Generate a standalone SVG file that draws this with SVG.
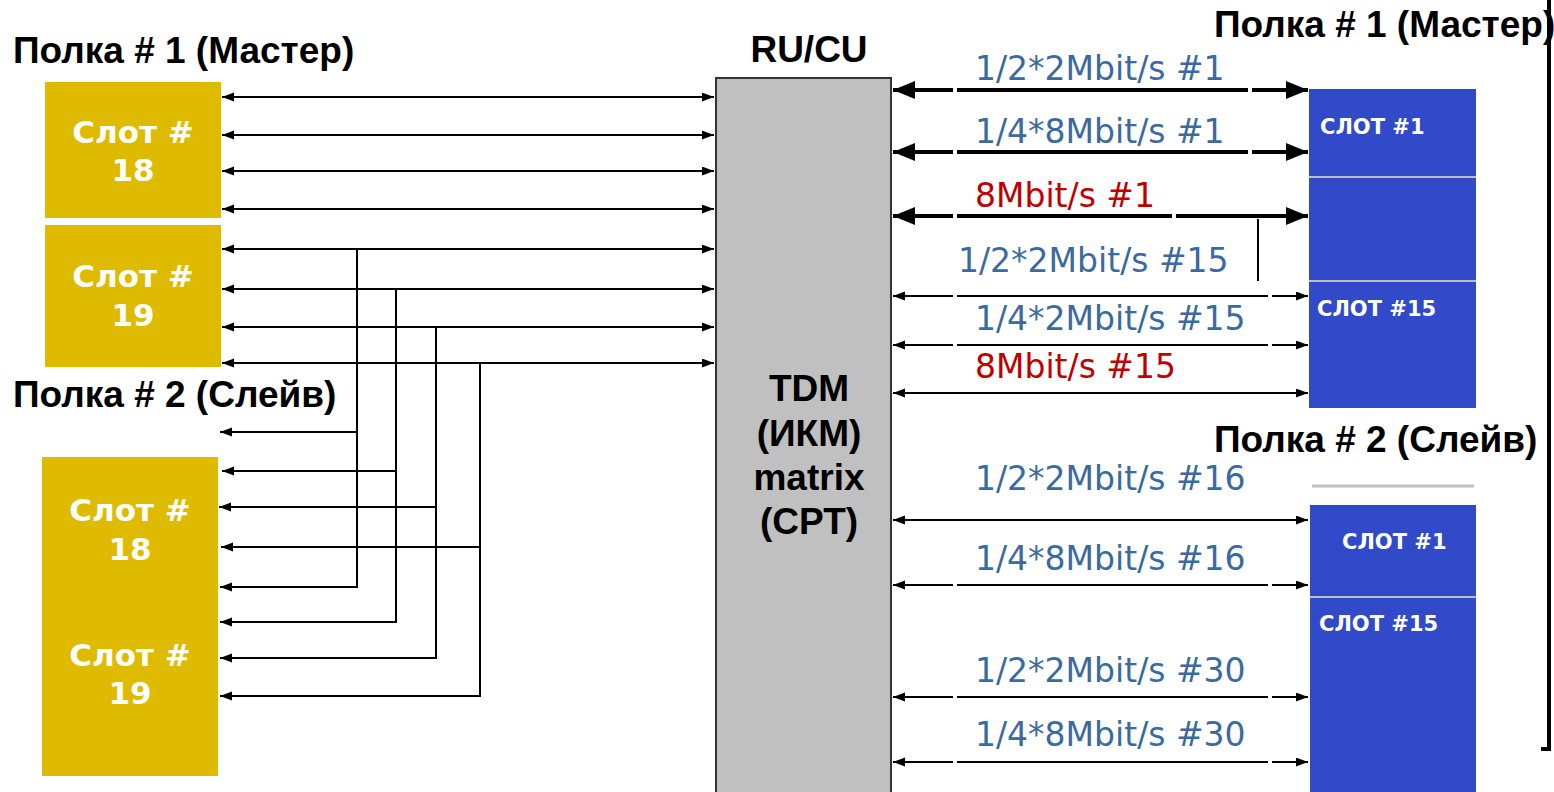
<svg xmlns="http://www.w3.org/2000/svg" width="1554" height="792" viewBox="0 0 1554 792">
<style>
.hd{font-family:"Liberation Sans",Arial,sans-serif;font-weight:bold;font-size:37px;fill:#000}
.ys{font-family:"DejaVu Sans",Verdana,sans-serif;font-weight:bold;font-size:31px;fill:#fff;text-anchor:middle}
.bs{font-family:"DejaVu Sans",Verdana,sans-serif;font-weight:bold;font-size:21px;fill:#fff}
.lb{font-family:"DejaVu Sans",Verdana,sans-serif;font-size:33px;fill:#3A6A9E}
.lr{font-family:"DejaVu Sans",Verdana,sans-serif;font-size:33px;fill:#C00000}
.ln{stroke:#000;stroke-width:2;fill:none}
.la{stroke:#000;stroke-width:2;fill:none;marker-start:url(#a);marker-end:url(#a)}
.ll{stroke:#000;stroke-width:2;fill:none;marker-end:url(#a)}
.tk{stroke:#000;stroke-width:4;fill:none;marker-start:url(#b);marker-end:url(#b)}
.yb{fill:#DFBB00}
.bb{fill:#314ACA}
.sep{stroke:#BDBDBD;stroke-width:2}
</style>
<defs>
<marker id="a" markerUnits="userSpaceOnUse" markerWidth="13" markerHeight="10" refX="12" refY="4.5" orient="auto-start-reverse"><path d="M0,0 L12,4.5 L0,9 z" fill="#000"/></marker>
<marker id="b" markerUnits="userSpaceOnUse" markerWidth="24" markerHeight="20" refX="22" refY="9" orient="auto-start-reverse"><path d="M0,0 L22,9 L0,18 z" fill="#000"/></marker>
</defs>
<rect width="1554" height="792" fill="#fff"/>

<g id="title-left-master"><text class="hd" x="13" y="63">Полка # 1 (Мастер)</text></g>
<g id="title-left-slave"><text class="hd" x="13" y="407">Полка # 2 (Слейв)</text></g>
<g id="title-right-master"><text class="hd" x="1214" y="37">Полка # 1 (Мастер)</text></g>
<g id="title-right-slave"><text class="hd" x="1214" y="452">Полка # 2 (Слейв)</text></g>

<g id="slot18-master"><rect class="yb" x="45" y="82" width="176" height="136"/><text class="ys" x="133" y="143">Слот #</text><text class="ys" x="133" y="181">18</text></g>
<g id="slot19-master"><rect class="yb" x="45" y="225" width="176" height="142"/><text class="ys" x="133" y="287">Слот #</text><text class="ys" x="133" y="326">19</text></g>
<g id="slots-slave"><rect class="yb" x="42" y="457" width="176" height="319"/><text class="ys" x="130" y="521">Слот #</text><text class="ys" x="130" y="560">18</text><text class="ys" x="130" y="666">Слот #</text><text class="ys" x="130" y="704">19</text></g>

<g id="rucu"><text class="hd" x="809" y="62" text-anchor="middle">RU/CU</text>
<rect x="716" y="78" width="175" height="730" fill="#C0C0C0" stroke="#333" stroke-width="2"/>
<text class="hd" x="809" y="401" text-anchor="middle">TDM</text>
<text class="hd" x="809" y="446" text-anchor="middle">(ИКМ)</text>
<text class="hd" x="809" y="490" text-anchor="middle">matrix</text>
<text class="hd" x="809" y="534" text-anchor="middle">(СРТ)</text></g>

<g id="blue-master"><rect class="bb" x="1309" y="89" width="167" height="319"/>
<line class="sep" x1="1309" y1="177" x2="1476" y2="177"/><line class="sep" x1="1309" y1="281" x2="1476" y2="281"/>
<text class="bs" x="1320" y="134">СЛОТ #1</text><text class="bs" x="1317" y="316">СЛОТ #15</text></g>
<g id="blue-slave"><line x1="1312" y1="486" x2="1474" y2="486" stroke="#C0C0C0" stroke-width="3"/>
<rect class="bb" x="1310" y="505" width="166" height="290"/>
<line class="sep" x1="1310" y1="597" x2="1476" y2="597"/>
<text class="bs" x="1342" y="549">СЛОТ #1</text><text class="bs" x="1319" y="631">СЛОТ #15</text></g>

<g id="bracket"><path d="M1549,0 V749 H1541" stroke="#000" stroke-width="4" fill="none"/></g>

<g id="connectors">
<line class="la" x1="222" y1="97" x2="714" y2="97"/>
<line class="la" x1="222" y1="135" x2="714" y2="135"/>
<line class="la" x1="222" y1="171" x2="714" y2="171"/>
<line class="la" x1="222" y1="209" x2="714" y2="209"/>
<line class="la" x1="222" y1="249" x2="714" y2="249"/>
<line class="la" x1="222" y1="289" x2="714" y2="289"/>
<line class="la" x1="222" y1="327" x2="714" y2="327"/>
<line class="la" x1="222" y1="363" x2="714" y2="363"/>
<path class="ln" d="M357,249 V588 M396,289 V623 M436,327 V659 M480,363 V697"/>
<line class="ll" x1="357" y1="432" x2="220" y2="432"/>
<line class="ll" x1="396" y1="471" x2="222" y2="471"/>
<line class="ll" x1="436" y1="507" x2="219" y2="507"/>
<line class="ll" x1="480" y1="547" x2="221" y2="547"/>
<line class="ll" x1="357" y1="587" x2="220" y2="587"/>
<line class="ll" x1="396" y1="622" x2="220" y2="622"/>
<line class="ll" x1="436" y1="658" x2="220" y2="658"/>
<line class="ll" x1="480" y1="696" x2="220" y2="696"/>

<path class="tk" d="M893,90 H953 M957,90 H1248 M1252,90 H1308"/>
<path class="tk" d="M893,152 H953 M957,152 H1248 M1252,152 H1308"/>
<path class="tk" d="M893,216 H953 M957,216 H1172 M1176,216 H1308"/>
<line class="ln" x1="1258" y1="219" x2="1258" y2="281"/>
<path class="la" d="M893,296 H953 M957,296 H1268 M1272,296 H1308"/>
<path class="la" d="M893,345 H953 M957,345 H1268 M1272,345 H1308"/>
<path class="la" d="M893,393 H1308"/>
<path class="la" d="M893,520 H1308"/>
<path class="la" d="M893,585 H953 M957,585 H1268 M1272,585 H1308"/>
<path class="la" d="M893,697 H953 M957,697 H1268 M1272,697 H1308"/>
<path class="la" d="M893,762 H953 M957,762 H1268 M1272,762 H1308"/>
</g>

<g id="labels">
<text class="lb" x="975" y="80">1/2*2Mbit/s #1</text>
<text class="lb" x="975" y="143">1/4*8Mbit/s #1</text>
<text class="lr" x="975" y="207">8Mbit/s #1</text>
<text class="lb" x="958" y="272">1/2*2Mbit/s #15</text>
<text class="lb" x="975" y="330">1/4*2Mbit/s #15</text>
<text class="lr" x="975" y="378">8Mbit/s #15</text>
<text class="lb" x="975" y="490">1/2*2Mbit/s #16</text>
<text class="lb" x="975" y="570">1/4*8Mbit/s #16</text>
<text class="lb" x="975" y="682">1/2*2Mbit/s #30</text>
<text class="lb" x="975" y="746">1/4*8Mbit/s #30</text>
</g>
</svg>
